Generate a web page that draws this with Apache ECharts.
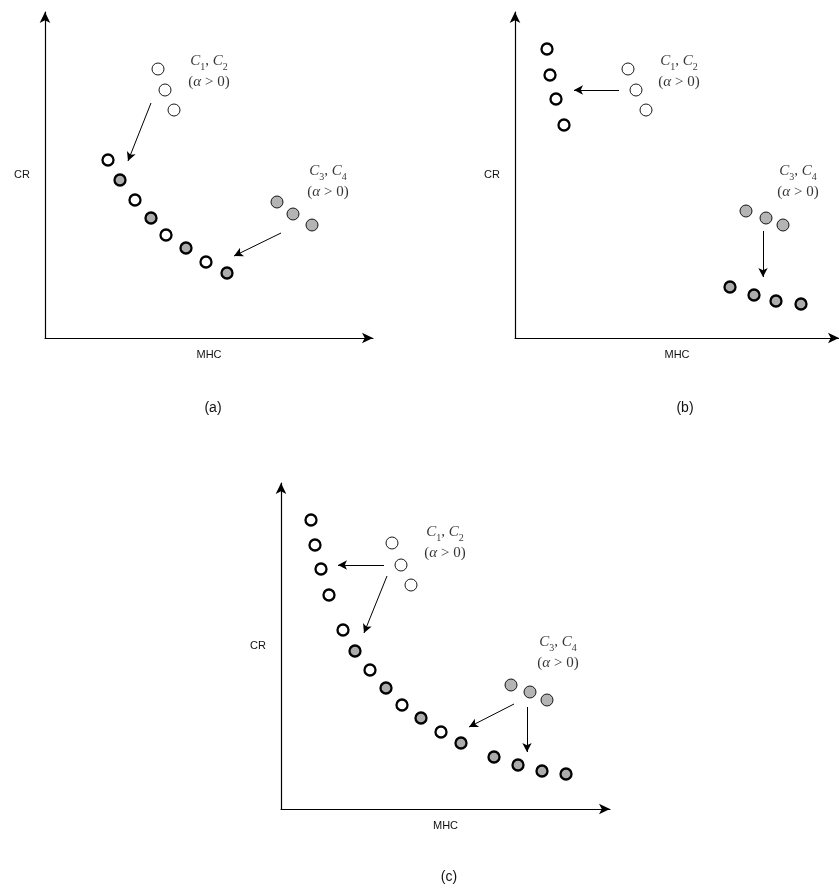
<!DOCTYPE html>
<html>
<head>
<meta charset="utf-8">
<script src="https://cdn.jsdelivr.net/npm/echarts@6/dist/echarts.min.js"></script>
<style>
  html, body { margin: 0; padding: 0; background: #fff; }
  #main { width: 839px; height: 888px; }
</style>
</head>
<body>
<div id="main"></div>
<script>
// panel (a)
var aOpenStart = [[113, 269], [120, 248], [129, 228]];
var aShadeStart = [[232, 136], [248, 124], [267, 113]];
var aOpenEnd = [[63, 178], [90, 138], [121, 103], [161, 76]];
var aShadeEnd = [[75, 158], [106, 120], [141, 90], [182, 65]];
var aArrows = [[106, 235, 83, 177], [236, 105, 189, 82]];
var aLabels = [[164, 266], [283, 156]];

// panel (b)
var bOpenStart = [[113, 269], [121, 248], [131, 228]];
var bShadeStart = [[231, 127], [251, 120], [268, 113]];
var bOpenEnd = [[32, 289], [35, 263], [41, 239], [49, 213]];
var bShadeEnd = [[215, 51], [239, 43], [261, 37], [286, 34]];
var bArrows = [[104, 248, 59, 248], [248, 107, 248, 61]];
var bLabels = [[164, 266], [283, 156]];

// panel (c)
var cOpenStart = [[111, 266], [120, 244], [130, 224]];
var cShadeStart = [[230, 124], [249, 117], [266, 109]];
var cOpenEnd = [[30, 289], [34, 264], [40, 240], [48, 214], [62, 179], [89, 139], [121, 104], [160, 77]];
var cShadeEnd = [[74, 158], [105, 121], [140, 91], [180, 66], [213, 52], [237, 44], [261, 38], [285, 35]];
var cArrows = [[103, 244, 57, 244], [106, 233, 83, 176], [233, 105, 188, 82], [246, 102, 246, 57]];
var cLabels = [[164, 266], [277, 156]];

var captions = ['(a)', '(b)', '(c)'];
var labelTexts = [
    '{i|C}{s|1}{n|, }{i|C}{s|2}\n{n|(}{i|α}{n| > 0)}',
    '{i|C}{s|3}{n|, }{i|C}{s|4}\n{n|(}{i|α}{n| > 0)}'
];

var grids = [
    {left: 45, top: 12, width: 328, height: 326},
    {left: 515, top: 12, width: 324, height: 326},
    {left: 281, top: 483, width: 329, height: 326}
];

var sans = 'Liberation Sans, Arial, sans-serif';
var serif = 'DejaVu Serif, Liberation Serif, serif';

var rich = {
    i: {fontFamily: 'Liberation Serif', fontStyle: 'italic', fontSize: 15, color: '#000', lineHeight: 21},
    s: {fontFamily: 'Liberation Serif', fontSize: 10, color: '#000', verticalAlign: 'bottom', lineHeight: 16},
    n: {fontFamily: 'Liberation Serif', fontSize: 15, color: '#000', lineHeight: 21}
};

function circles(idx, data, fill, thick) {
    return {
        type: 'scatter',
        xAxisIndex: idx,
        yAxisIndex: idx,
        data: data,
        symbol: 'circle',
        symbolSize: thick ? 11 : 12,
        silent: true,
        itemStyle: {
            color: fill,
            borderColor: '#000',
            borderWidth: thick ? 2.3 : 0.9,
            opacity: 1
        }
    };
}

function extras(idx, arrows, labels) {
    return {
        type: 'scatter',
        xAxisIndex: idx,
        yAxisIndex: idx,
        symbolSize: 0,
        silent: true,
        data: labels.map(function (p, k) {
            return {value: p, text: labelTexts[k]};
        }),
        label: {
            show: true,
            position: 'inside',
            align: 'center',
            color: '#000',
            formatter: function (p) { return p.data.text; },
            rich: rich
        },
        markLine: {
            silent: true,
            symbol: ['none', 'arrow'],
            symbolSize: [7, 9],
            label: {show: false},
            lineStyle: {color: '#000', width: 1, type: 'solid'},
            emphasis: {disabled: true},
            data: arrows.map(function (a) {
                return [{coord: [a[0], a[1]]}, {coord: [a[2], a[3]]}];
            })
        }
    };
}

var panels = [
    [aOpenStart, aShadeStart, aOpenEnd, aShadeEnd, aArrows, aLabels],
    [bOpenStart, bShadeStart, bOpenEnd, bShadeEnd, bArrows, bLabels],
    [cOpenStart, cShadeStart, cOpenEnd, cShadeEnd, cArrows, cLabels]
];

var axisLine = {
    show: true,
    symbol: ['none', 'arrow'],
    symbolSize: [8, 11],
    lineStyle: {color: '#000', width: 1.2}
};

var xAxes = [], yAxes = [], series = [], titles = [];
var captionPos = [[208, 396], [680, 396], [444, 865]];

grids.forEach(function (g, i) {
    xAxes.push({
        type: 'value', gridIndex: i, min: 0, max: g.width,
        name: 'MHC', nameLocation: 'middle', nameGap: 11,
        nameTextStyle: {fontFamily: sans, fontSize: 11, color: '#111', verticalAlign: 'top'},
        axisLine: axisLine, axisTick: {show: false}, axisLabel: {show: false}, splitLine: {show: false}
    });
    yAxes.push({
        type: 'value', gridIndex: i, min: 0, max: g.height,
        name: 'CR', nameLocation: 'middle', nameRotate: 0, nameGap: 15,
        nameTextStyle: {fontFamily: sans, fontSize: 11, color: '#111'},
        axisLine: axisLine, axisTick: {show: false}, axisLabel: {show: false}, splitLine: {show: false}
    });
    var p = panels[i];
    series.push(circles(i, p[0], '#fff', false));
    series.push(circles(i, p[1], '#b4b4b4', false));
    series.push(circles(i, p[2], '#fff', true));
    series.push(circles(i, p[3], '#acacac', true));
    series.push(extras(i, p[4], p[5]));
    titles.push({
        text: captions[i], left: captionPos[i][0], top: captionPos[i][1], textAlign: 'center',
        textStyle: {fontFamily: sans, fontSize: 14, fontWeight: 'normal', color: '#111'}
    });
});

var chart = echarts.init(document.getElementById('main'));
chart.setOption({
    animation: false,
    backgroundColor: '#fff',
    title: titles,
    grid: grids,
    xAxis: xAxes,
    yAxis: yAxes,
    series: series
});
</script>
</body>
</html>
